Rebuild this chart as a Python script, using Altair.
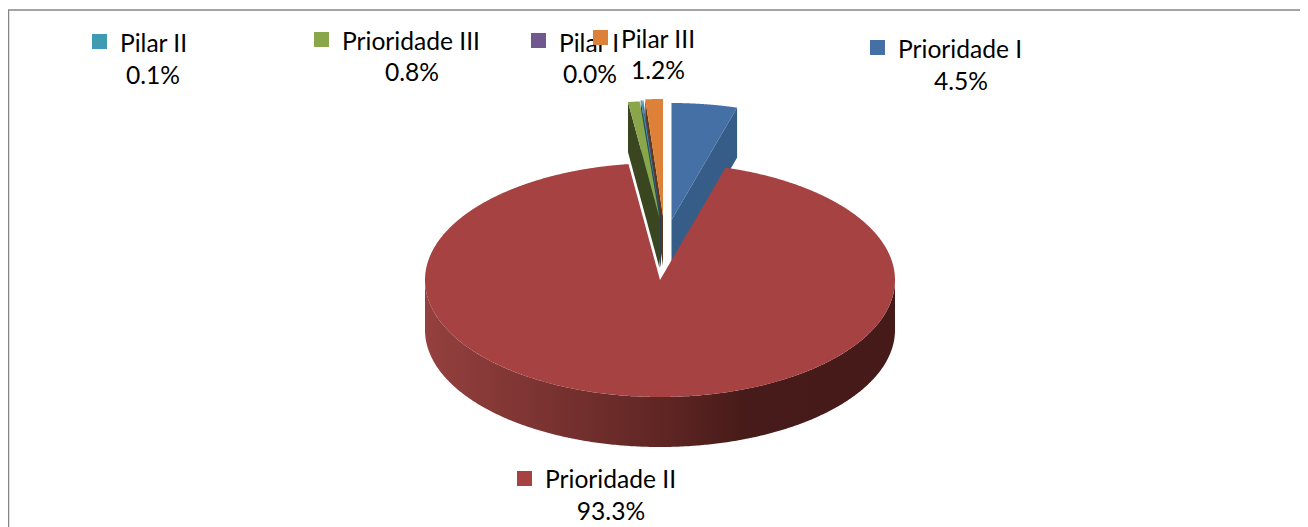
import numpy as np
import pandas as pd
import altair as alt

# ---- chart values (drawing order is clockwise from 12 o'clock) ----
categories = ["Prioridade I", "Prioridade II", "Prioridade III", "Pilar II", "Pilar I", "Pilar III"]
shares = [4.5, 93.3, 0.8, 0.1, 0.04, 1.2]
colors = ["#4570A6", "#A64342", "#8AA64A", "#3F9AB3", "#71588F", "#DD8139"]
wall_colors = ["#355D87", "#642927", "#394620", "#1F4F5C", "#3A2D4A", "#5E3718"]

# ---- pie geometry, in page pixels ----
RX, RY, DEPTH = 235.0, 117.0, 50.0
apex = {
    "Prioridade I": (671.5, 220.0),
    "Prioridade II": (660.0, 280.0),
    "Prioridade III": (659.5, 218.0),
    "Pilar II": (660.5, 217.0),
    "Pilar I": (661.0, 217.0),
    "Pilar III": (663.0, 216.0),
}
# ---- legend layout, in page pixels: square centre, label left, label y, percent centre, percent y ----
legend_layout = {
    "Pilar II": (99.5, 41.5, 120, 45, 153, 77),
    "Prioridade III": (321.5, 39.5, 342, 43, 412, 74),
    "Pilar I": (538.5, 40.5, 559, 45, 590, 76),
    "Pilar III": (600.5, 37.5, 621, 41, 658, 72),
    "Prioridade I": (877.5, 47.5, 898, 51, 961, 83),
    "Prioridade II": (524.5, 478.5, 545, 481, 611, 513),
}

W, H = 1292, 519
sx = alt.Scale(domain=[8, 8 + W], range=[0, W], nice=False, zero=False)
sy = alt.Scale(domain=[8, 8 + H], range=[0, H], nice=False, zero=False)
X = lambda f: alt.X(f, type="quantitative", scale=sx, axis=None)
Y = lambda f: alt.Y(f, type="quantitative", scale=sy, axis=None)


def columns(poly, n=160):
    """Turn a polygon into x / y-top / y-bottom columns for an area mark."""
    poly = np.asarray(poly)
    xs = np.unique(np.concatenate([poly[:, 0], np.linspace(poly[:, 0].min(), poly[:, 0].max(), n)]))
    rows = []
    a, b = poly, np.roll(poly, -1, axis=0)
    for x in xs:
        ys = []
        for (x1, y1), (x2, y2) in zip(a, b):
            if min(x1, x2) <= x <= max(x1, x2):
                if x1 == x2:
                    ys += [y1, y2]
                else:
                    ys.append(y1 + (x - x1) * (y2 - y1) / (x2 - x1))
        if ys:
            rows.append({"x": x, "y0": min(ys), "y1": max(ys)})
    return pd.DataFrame(rows)


def area(poly, color, n=160):
    return (
        alt.Chart(columns(poly, n))
        .mark_area(color=color, orient="vertical", opacity=1)
        .encode(x=X("x"), y=Y("y0"), y2="y1")
    )


def rim(cat, t0, t1, n=60):
    cx, cy = apex[cat]
    t = np.radians(np.linspace(t0, t1, n))
    return np.column_stack([cx + RX * np.sin(t), cy - RY * np.cos(t)])


# angle of every slice
scale = 360.0 / sum(shares)
angles = {}
a0 = 0.0
for c, s in zip(categories, shares):
    angles[c] = (a0, a0 + s * scale)
    a0 += s * scale

layers = []

# frame
layers.append(
    alt.Chart(pd.DataFrame({"x": [8], "x2": [1300], "y": [10]}))
    .mark_rule(color="#868686", strokeWidth=1.5)
    .encode(x=X("x"), x2="x2", y=Y("y"))
)
layers.append(
    alt.Chart(pd.DataFrame({"x": [8.5], "y": [10], "y2": [527]}))
    .mark_rule(color="#868686", strokeWidth=1.5)
    .encode(x=X("x"), y=Y("y"), y2="y2")
)

# blue slice: cut-face then top
b = "Prioridade I"
rb = rim(b, *angles[b])
ax, ay = apex[b]
end = rb[-1]
layers.append(area([(ax, ay), tuple(end), (end[0], end[1] + DEPTH), (ax, ay + DEPTH)], wall_colors[0]))
layers.append(area(np.vstack([[(ax, ay)], rb]), colors[0]))

# narrow slices: rightmost first so the left neighbour sits on top
for c in ["Pilar III", "Pilar I", "Pilar II", "Prioridade III"]:
    i = categories.index(c)
    r = rim(c, *angles[c], n=12)
    ax, ay = apex[c]
    start = r[0]
    layers.append(area([(ax, ay), tuple(start), (start[0], start[1] + DEPTH), (ax, ay + DEPTH)], wall_colors[i], 60))
    layers.append(area(np.vstack([[(ax, ay)], r]), colors[i], 60))

# red slice: wall then top
c = "Prioridade II"
cx, cy = apex[c]
xw = cx + RX * np.sin(np.radians(np.linspace(90, 270, 361)))
wall_top = cy + RY * np.sqrt(np.clip(1 - ((xw - cx) / RX) ** 2, 0, 1))
wall = pd.DataFrame({"x": xw, "y0": wall_top, "y1": wall_top + DEPTH})
layers.append(
    alt.Chart(wall)
    .mark_area(
        orient="vertical",
        color=alt.Gradient(
            gradient="linear",
            x1=0, x2=1, y1=0, y2=0,
            stops=[
                alt.GradientStop(offset=0.0, color="#94403E"),
                alt.GradientStop(offset=0.2, color="#803634"),
                alt.GradientStop(offset=0.5, color="#602624"),
                alt.GradientStop(offset=0.68, color="#471B19"),
                alt.GradientStop(offset=1.0, color="#451A18"),
            ],
        ),
    )
    .encode(x=X("x"), y=Y("y0"), y2="y1")
)
layers.append(area(np.vstack([[(cx, cy)], rim(c, *angles[c], n=360)]), colors[1], 500))

# legend entries
FONT = "Lato"
FS = 24.6
for c in ["Pilar II", "Prioridade III", "Pilar I", "Pilar III", "Prioridade I", "Prioridade II"]:
    sqx, sqy, lx, ly, px, py = legend_layout[c]
    i = categories.index(c)
    layers.append(
        alt.Chart(pd.DataFrame({"x": [lx], "y": [ly], "t": [c]}))
        .mark_text(align="left", baseline="middle", font=FONT, fontSize=FS, color="#000000")
        .encode(x=X("x"), y=Y("y"), text="t:N")
    )
    layers.append(
        alt.Chart(pd.DataFrame({"x": [px], "y": [py], "t": [f"{shares[i]:.1f}%"]}))
        .mark_text(align="center", baseline="middle", font=FONT, fontSize=FS, color="#000000")
        .encode(x=X("x"), y=Y("y"), text="t:N")
    )
    layers.append(
        alt.Chart(pd.DataFrame({"x": [sqx], "y": [sqy]}))
        .mark_square(size=225, color=colors[i], opacity=1)
        .encode(x=X("x"), y=Y("y"))
    )

chart = (
    alt.layer(*layers)
    .properties(width=W, height=H, padding=0, autosize=alt.AutoSizeParams(type="none"), background="#FFFFFF")
    .configure_view(stroke=None)
)
chart.save("out.html", embed_options={"renderer": "svg", "actions": False})
